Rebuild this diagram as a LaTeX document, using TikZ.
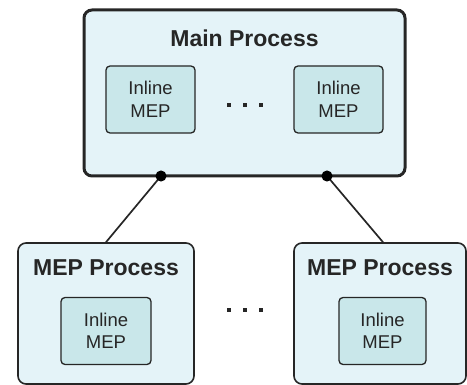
\documentclass[tikz,border=0pt]{standalone}
\usepackage{fontspec}
\setmainfont{Liberation Sans}

\definecolor{procfill}{HTML}{E4F3F8}
\definecolor{mepfill}{HTML}{C9E7EA}
\definecolor{edge}{HTML}{262626}

\begin{document}
\begin{tikzpicture}[x=1pt, y=-1pt,
    procbox/.style={draw=edge, fill=procfill, rounded corners=8pt, inner sep=0pt},
    mepbox/.style={draw=edge, fill=mepfill, line width=1.3pt, rounded corners=4pt, inner sep=0pt,
        minimum height=67pt, align=center, text=edge, font=\fontsize{18.5}{22.5}\selectfont},
    title/.style={text=edge, font=\fontsize{23}{26}\selectfont\bfseries},
    dotsrow/.style={text=edge, inner sep=0pt},
    joint/.style={circle, draw=black, fill=black, line width=1pt, inner sep=0pt, minimum size=10pt}]
\useasboundingbox (0,0) rectangle (467,385);
% main process
\node (main)[procbox, line width=3pt, minimum width=321pt, minimum height=166pt] at (244.5,93) {};
\node (mainT)[title] at (244.5,38) {Main Process};
\node (in1)[mepbox, minimum width=89pt] at (150.5,99.5) {Inline\\MEP};
\node (in2)[mepbox, minimum width=89pt] at (338.5,99.5) {Inline\\MEP};
\node (dots1)[dotsrow] at (245,105) {\rule{3.5pt}{3.5pt}\hspace{12.5pt}\rule{3.5pt}{3.5pt}\hspace{12.5pt}\rule{3.5pt}{3.5pt}};
% MEP processes
\node (mepl)[procbox, line width=1.6pt, minimum width=176pt, minimum height=141pt] at (106,313.5) {};
\node (meplT)[title] at (106,268) {MEP Process};
\node (in3)[mepbox, minimum width=90pt] at (106,331) {Inline\\MEP};
\node (mepr)[procbox, line width=1.6pt, minimum width=172pt, minimum height=141pt] at (380,313.5) {};
\node (meprT)[title] at (380,268) {MEP Process};
\node (in4)[mepbox, minimum width=87pt] at (382.5,331) {Inline\\MEP};
\node (dots2)[dotsrow] at (245,310) {\rule{3.5pt}{3.5pt}\hspace{12.5pt}\rule{3.5pt}{3.5pt}\hspace{12.5pt}\rule{3.5pt}{3.5pt}};
% connections
\coordinate (jl) at (161,176);
\coordinate (jr) at (327,176);
\draw[line width=1.7pt, draw=edge] (jl) -- (mepl.north);
\draw[line width=1.7pt, draw=edge] (jr) -- ([xshift=3pt]mepr.north);
\node (jlDot)[joint] at (jl) {};
\node (jrDot)[joint] at (jr) {};
\end{tikzpicture}
\end{document}
